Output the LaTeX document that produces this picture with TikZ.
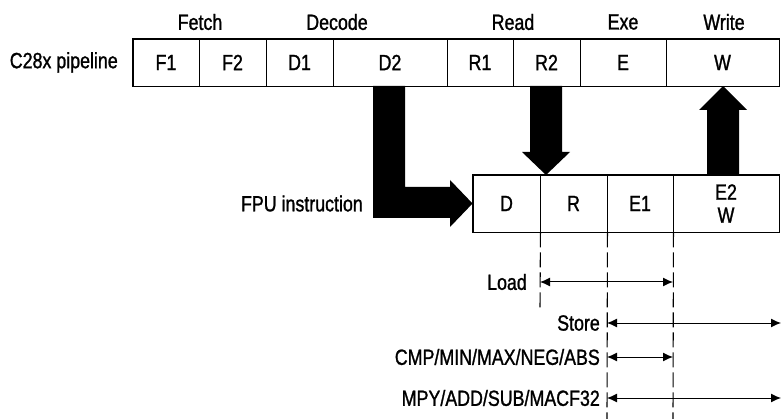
\documentclass[tikz,border=0pt]{standalone}
\usepackage{fontspec}
\setmainfont[FakeStretch=0.81, FakeBold=1.2]{Liberation Sans}
\usetikzlibrary{arrows.meta}
\begin{document}
\begin{tikzpicture}[x=1pt,y=-1pt,
  every node/.style={font=\fontsize{22}{23}\selectfont, inner sep=0pt},
  cell/.style={draw, line width=0.9pt, minimum height=#1},
  cell/.default=47pt,
  outer/.style={line width=1.8pt},
  guide/.style={line width=1.1pt, dash pattern=on 15pt off 5pt},
  span/.style={line width=1pt, {Latex[length=10pt,width=9pt]}-{Latex[length=10pt,width=9pt]}},
  bigarrow/.style={fill=black, draw=none}
]
\useasboundingbox (0,0) rectangle (781,419);

% top pipeline cells
\node[cell, minimum width=66pt] (f1) at (166,62.5) {F1};
\node[cell, minimum width=67pt] (f2) at (232.5,62.5) {F2};
\node[cell, minimum width=67pt] (d1) at (299.5,62.5) {D1};
\node[cell, minimum width=114pt] (d2) at (390,62.5) {D2};
\node[cell, minimum width=66pt] (r1) at (480,62.5) {R1};
\node[cell, minimum width=67pt] (r2) at (546.5,62.5) {R2};
\node[cell, minimum width=86pt] (e) at (623,62.5) {E};
\node[cell, minimum width=113pt] (w) at (722.5,62.5) {W};
\draw[outer] (f1.north west) rectangle (w.south east);

% stage labels
\node (fetch) at (200,22) {Fetch};
\node (decode) at (337,22) {Decode};
\node (read) at (513,22) {Read};
\node (exe) at (623,22) {Exe};
\node (write) at (724,22) {Write};
\node[anchor=east] (c28) at (118,62.5) {C28x pipeline};

% FPU cells
\node[cell=57pt, minimum width=67pt] (fd) at (506.5,203.5) {D};
\node[cell=57pt, minimum width=67pt] (fr) at (573.5,203.5) {R};
\node[cell=57pt, minimum width=66pt] (fe1) at (640,203.5) {E1};
\node[cell=57pt, minimum width=106pt, align=center] (fe2) at (726,203.5) {E2\\W};
\draw[outer] (fd.north west) rectangle (fe2.south east);
\node[anchor=east] (fpu) at (363,203.5) {FPU instruction};

% big arrows
\fill[bigarrow] (373,86) -- (405,86) -- (405,187) -- (450,187) -- (450,180)
  -- (fd.west) -- (450,227) -- (450,218) -- (373,218) -- cycle;
\fill[bigarrow] (530,86) -- (562,86) -- (562,152) -- (570,152) -- (546,175)
  -- (522,152) -- (530,152) -- cycle;
\fill[bigarrow] (707,175) -- (739,175) -- (739,110) -- (747,110) -- (723,86)
  -- (699,110) -- (707,110) -- cycle;

% dashed guides
\coordinate (g1b) at (540,310);
\coordinate (g2b) at (607,419);
\coordinate (g3b) at (673,419);
\draw[guide] (fd.south east) -- (g1b);
\draw[guide] (fr.south east) -- (g2b);
\draw[guide] (fe1.south east) -- (g3b);

% spans
\coordinate (ls) at (540,282); \coordinate (le) at (673,282);
\coordinate (ss) at (607,323); \coordinate (se) at (781,323);
\coordinate (cs) at (607,357); \coordinate (ce) at (673,357);
\coordinate (ms) at (607,398); \coordinate (me) at (781,398);
\draw[span] (ls) -- (le);
\draw[span] (ss) -- (se);
\draw[span] (cs) -- (ce);
\draw[span] (ms) -- (me);
\node[anchor=east] (load) at (527,282) {Load};
\node[anchor=east] (store) at (600,323) {Store};
\node[anchor=east] (cmp) at (600,357) {CMP/MIN/MAX/NEG/ABS};
\node[anchor=east] (mpy) at (600,398) {MPY/ADD/SUB/MACF32};
\end{tikzpicture}
\end{document}
